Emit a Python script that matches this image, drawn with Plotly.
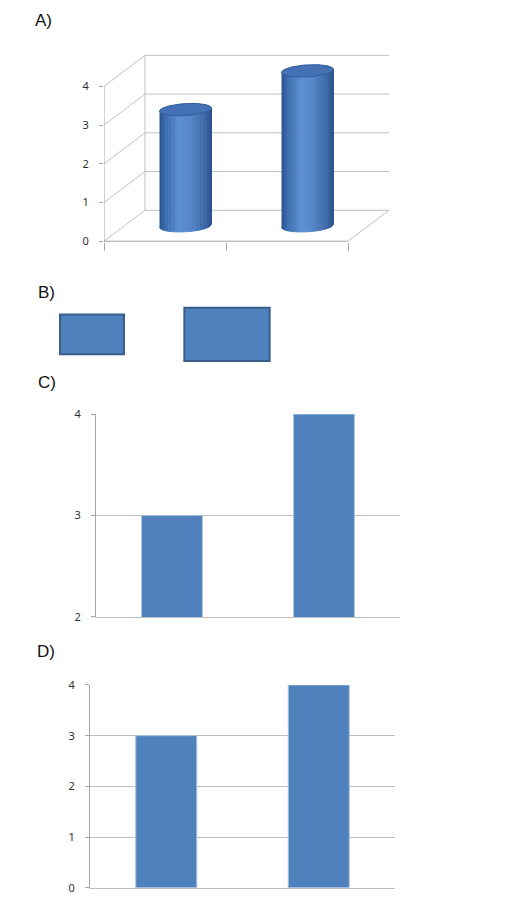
import numpy as np
import plotly.graph_objects as go

W, H = 531, 900

categories = [0, 1]
values = [3, 4]
ticks_a = [0, 1, 2, 3, 4]
ticks_c = [2, 3, 4]
ticks_d = [0, 1, 2, 3, 4]
panel_labels = ["A)", "B)", "C)", "D)"]

BLUE = "#4F81BD"
EDGE = "#385D8A"
GRID = "#C0C0C0"
AXIS = "#A6A6A6"
TICKFONT = dict(family="Noto Sans", size=11, color="#2E2E2E")


def fx(p):
    return p / W


def fy(p):
    # the screenshot comes out squeezed a bit vertically, stretch to make up for it
    p = 413 + (p - 413) / 0.984
    return 1 - p / H


fig = go.Figure()

# ---- A) fake 3d cylinders (oblique projection) ----
dx, dy = 0.336, 0.8          # depth offset in data units
left, right = -0.5, 1.5
xs, ys = [], []
for v in ticks_a:
    xs += [left, left + dx, right + dx, None]
    ys += [v, v + dy, v + dy, None]
xs += [left + dx, left + dx, None, right + dx, right]
ys += [dy, max(ticks_a) + dy, None, dy, 0]
fig.add_trace(go.Scatter(x=xs, y=ys, mode="lines", line=dict(color=GRID, width=1),
                         xaxis="x", yaxis="y", hoverinfo="skip"))
fig.add_trace(go.Scatter(x=[left, left, None, left, right], y=[max(ticks_a), 0, None, 0, 0],
                         mode="lines", line=dict(color=AXIS, width=1),
                         xaxis="x", yaxis="y", hoverinfo="skip"))

stops = [(0, "#2A5392"), (0.12, "#3C6DAF"), (0.38, "#5C90D2"),
         (0.6, "#5486C8"), (0.85, "#3E6BAA"), (1.0, "#2B5089")]


def shade(t):
    for (t0, c0), (t1, c1) in zip(stops[:-1], stops[1:]):
        if t <= t1:
            f = (t - t0) / (t1 - t0)
            a = [int(c0[i:i + 2], 16) for i in (1, 3, 5)]
            b = [int(c1[i:i + 2], 16) for i in (1, 3, 5)]
            return "rgb(%d,%d,%d)" % tuple(round(a[j] + f * (b[j] - a[j])) for j in range(3))
    return stops[-1][1]


rx, ry, s = 0.213, 0.155, 0.18
n = 18
for i, v in zip(categories, values):
    cx = i + dx / 2
    base = dy / 2
    top = v + dy / 2
    edges = np.linspace(cx - rx, cx + rx, n + 1)
    for k in range(n):
        xx = np.linspace(edges[k], edges[k + 1], 6)
        u = np.clip((xx - cx) / rx, -1, 1)
        yb = base - ry * np.sqrt(1 - u ** 2) + s * (xx - cx)
        yt = top + s * (xx - cx)
        col = shade((k + 0.5) / n)
        fig.add_trace(go.Scatter(x=list(xx) + list(xx[::-1]), y=list(yt) + list(yb[::-1]),
                                 fill="toself", fillcolor=col, mode="lines",
                                 line=dict(color=col, width=1),
                                 xaxis="x", yaxis="y", hoverinfo="skip"))
    t = np.linspace(0, 2 * np.pi, 80)
    fig.add_trace(go.Scatter(x=cx + rx * np.cos(t), y=top + ry * np.sin(t) + s * rx * np.cos(t),
                             fill="toself", fillcolor="#4371B4", mode="lines",
                             line=dict(color="#305C9C", width=1),
                             xaxis="x", yaxis="y", hoverinfo="skip"))

# ---- B) rectangles sized by value ----
fig.add_trace(go.Bar(x=categories, y=values, base=[-v / 2 for v in values],
                     width=[v * 0.158 for v in values],
                     marker=dict(color=BLUE, line=dict(color=EDGE, width=2)),
                     xaxis="x2", yaxis="y2"))

# ---- C) truncated axis ----
fig.add_trace(go.Bar(x=categories, y=values, width=0.4,
                     marker=dict(color=BLUE, line=dict(color="#A9C2E0", width=1)),
                     xaxis="x3", yaxis="y3"))

# ---- D) full axis ----
fig.add_trace(go.Bar(x=categories, y=values, width=0.4,
                     marker=dict(color=BLUE, line=dict(color="#A9C2E0", width=1)),
                     xaxis="x4", yaxis="y4"))

hidden = dict(showgrid=False, zeroline=False, showticklabels=False, showline=False)

bar_y = dict(showgrid=True, gridcolor=GRID, gridwidth=1, zeroline=False,
             showline=True, linecolor=AXIS, ticks="outside", ticklen=4, tickcolor=AXIS,
             tickfont=TICKFONT, ticklabelstandoff=8)

fig.update_layout(
    width=W, height=900,
    margin=dict(l=0, r=0, t=0, b=0),
    paper_bgcolor="white", plot_bgcolor="white",
    showlegend=False, barmode="overlay",
    font=dict(family="Liberation Sans"),
    # A
    xaxis=dict(domain=[fx(104), fx(400)], range=[-0.5, -0.5 + 296 / 122], anchor="y",
               showgrid=False, zeroline=False, showticklabels=False, showline=False,
               tickvals=[-0.5, 0.5, 1.5], ticks="outside", ticklen=8, tickcolor=AXIS),
    yaxis=dict(domain=[fy(241), fy(40)], range=[-1 / 38.75, 200 / 38.75], anchor="x",
               showgrid=False, zeroline=False, showline=False, tickvals=ticks_a,
               ticks="outside", ticklen=4, tickcolor=AXIS, tickfont=TICKFONT,
               ticklabelstandoff=8),
    # B
    xaxis2=dict(domain=[0, 1], range=[-92 / 135, 439 / 135], anchor="y2", **hidden),
    yaxis2=dict(domain=[fy(370), fy(300)], range=[(333.25 - 370) / 13.3, (333.25 - 300) / 13.3],
                anchor="x2", **hidden),
    # C
    xaxis3=dict(domain=[fx(96), fx(400)], range=[-0.5, 1.5], anchor="y3",
                showgrid=False, zeroline=False, showticklabels=False,
                showline=True, linecolor=GRID),
    yaxis3=dict(domain=[fy(616), fy(413)], range=[2, 4], tickvals=ticks_c, anchor="x3", **bar_y),
    # D
    xaxis4=dict(domain=[fx(90), fx(395)], range=[-0.5, 1.5], anchor="y4",
                showgrid=False, zeroline=False, showticklabels=False,
                showline=True, linecolor=GRID),
    yaxis4=dict(domain=[fy(887), fy(684)], range=[0, 4], tickvals=ticks_d, anchor="x4", **bar_y),
)

label_pos = [(33, 19), (36, 291), (36, 381), (35, 651)]
for text, (lx, ly) in zip(panel_labels, label_pos):
    fig.add_annotation(text=text, xref="paper", yref="paper", x=fx(lx), y=fy(ly),
                       xanchor="left", yanchor="middle", showarrow=False,
                       font=dict(family="Liberation Sans", size=17, color="#111111"))

# page reset so the figure sits at the top-left corner of the window
reset = ("document.documentElement.style.margin='0';"
         "document.body.style.margin='0';"
         "document.body.style.padding='0';"
         "document.body.style.overflow='hidden';")
fig.write_html("out.html", post_script=reset, config={"displayModeBar": False})
